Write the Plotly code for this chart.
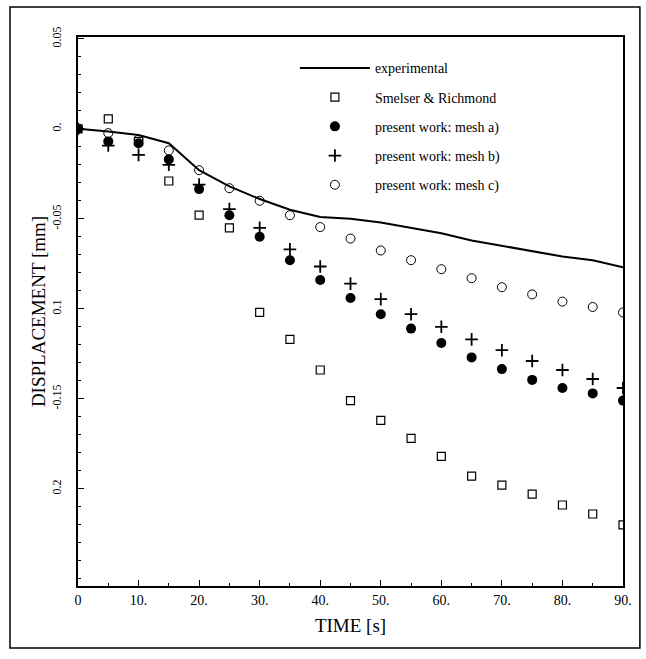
import plotly.graph_objects as go

time = [0, 5, 10, 15, 20, 25, 30, 35, 40, 45, 50, 55, 60, 65, 70, 75, 80, 85, 90]

experimental = [0.0, -0.0015, -0.0035, -0.008, -0.023, -0.032, -0.039, -0.045, -0.049, -0.050,
                -0.052, -0.055, -0.058, -0.062, -0.065, -0.068, -0.071, -0.073, -0.077]
smelser = [0.0, 0.0055, -0.007, -0.029, -0.048, -0.055, -0.102, -0.117, -0.134, -0.151,
           -0.162, -0.172, -0.182, -0.193, -0.198, -0.203, -0.209, -0.214, -0.220]
mesh_a = [0.0, -0.007, -0.008, -0.017, -0.0335, -0.048, -0.060, -0.073, -0.084, -0.094,
          -0.103, -0.111, -0.119, -0.127, -0.1335, -0.1395, -0.144, -0.147, -0.151]
mesh_b = [0.0, -0.0093, -0.0145, -0.020, -0.031, -0.0446, -0.055, -0.067, -0.0765, -0.086,
          -0.0946, -0.103, -0.110, -0.117, -0.123, -0.129, -0.134, -0.139, -0.144]
mesh_c = [0.0, -0.0024, -0.006, -0.012, -0.023, -0.033, -0.040, -0.048, -0.0546, -0.061,
          -0.0676, -0.073, -0.078, -0.083, -0.088, -0.092, -0.096, -0.099, -0.102]

x_tickvals = [0, 10, 20, 30, 40, 50, 60, 70, 80, 90]
x_ticktext = ["0", "10.", "20.", "30.", "40.", "50.", "60.", "70.", "80.", "90."]
y_tickvals = [0.05, 0.0, -0.05, -0.1, -0.15, -0.2]
y_ticktext = ["0.05", "0.", "-0.05", "0.1", "-0.15", "0.2"]

serif = "Liberation Serif"

fig = go.Figure()
fig.add_trace(go.Scatter(x=time, y=experimental, mode="lines", name="experimental",
                         line=dict(color="black", width=2), legendgroup="e"))
fig.add_trace(go.Scatter(x=time, y=smelser, mode="markers", name="Smelser &amp; Richmond",
                         marker=dict(symbol="square-open", size=8, color="black",
                                     line=dict(width=1.2)), legendgroup="s"))
fig.add_trace(go.Scatter(x=time, y=mesh_a, mode="markers", name="present work: mesh a)",
                         marker=dict(symbol="circle", size=10, color="black"), legendgroup="a"))
fig.add_trace(go.Scatter(x=time, y=mesh_b, mode="markers", name="present work: mesh b)",
                         marker=dict(symbol="cross-thin", size=9, color="black",
                                     line=dict(width=1.8, color="black")), legendgroup="b"))
fig.add_trace(go.Scatter(x=time, y=mesh_c, mode="markers", name="present work: mesh c)",
                         marker=dict(symbol="circle-open", size=9, color="black",
                                     line=dict(width=1)), legendgroup="c"))

fig.update_layout(
    width=646, height=659,
    margin=dict(l=78, r=23, t=37, b=73),
    paper_bgcolor="white", plot_bgcolor="white",
    font=dict(family=serif, color="black", size=13),
    legend=dict(x=0.398, y=0.972, xanchor="left", yanchor="top",
                font=dict(family=serif, size=14, color="black"), bgcolor="rgba(0,0,0,0)",
                tracegroupgap=8, itemwidth=70),
    showlegend=True,
    xaxis=dict(range=[0, 90], tickvals=x_tickvals, ticktext=x_ticktext,
               ticks="inside", ticklen=6, tickwidth=1.2, tickcolor="black",
               minor=dict(dtick=5, tick0=0, ticks="inside", ticklen=3, tickcolor="black"),
               showline=True, linecolor="black", linewidth=2, mirror=True,
               showgrid=False, zeroline=False,
               title=dict(text="TIME [s]", font=dict(family=serif, size=19), standoff=12),
               tickfont=dict(family=serif, size=14)),
    yaxis=dict(range=[-0.254, 0.051], tickvals=y_tickvals, ticktext=y_ticktext,
               ticks="inside", ticklen=6, tickwidth=1.2, tickcolor="black",
               minor=dict(dtick=0.01, tick0=0, ticks="inside", ticklen=3, tickcolor="black"),
               showline=True, linecolor="black", linewidth=2, mirror=True,
               showgrid=False, zeroline=False, tickangle=-90, ticklabelstandoff=10,
               title=dict(text="DISPLACEMENT [mm]", font=dict(family=serif, size=19), standoff=0),
               tickfont=dict(family=serif, size=12)),
    shapes=[dict(type="rect", xref="paper", yref="paper",
                 x0=-0.1248, x1=1.031, y0=-0.1129, y1=1.0546,
                 line=dict(color="black", width=1.5), layer="below")],
)

fig.write_html("out.html")
